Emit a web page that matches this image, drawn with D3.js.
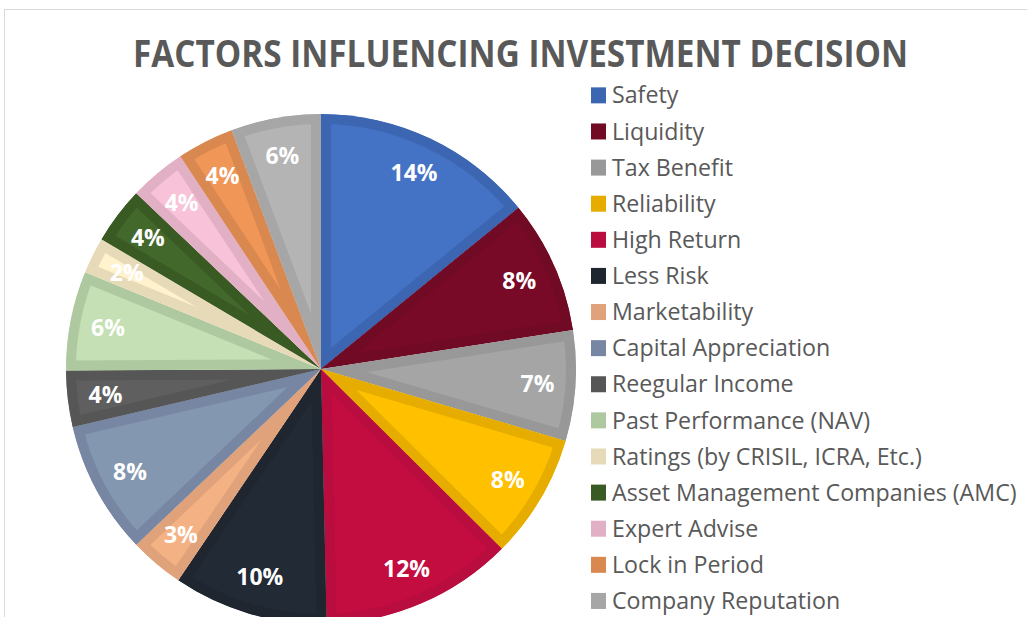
<!DOCTYPE html>
<html>
<head>
<meta charset="utf-8">
<script src="https://cdn.jsdelivr.net/npm/d3@7"></script>
<style>
  html, body { margin: 0; padding: 0; background: #fff; }
  svg { display: block; }
</style>
</head>
<body>
<svg id="chart" width="1027" height="617"></svg>
<script>
const categories = ["Safety", "Liquidity", "Tax Benefit", "Reliability", "High Return", "Less Risk",
  "Marketability", "Capital Appreciation", "Reegular Income", "Past Performance (NAV)",
  "Ratings (by CRISIL, ICRA, Etc.)", "Asset Management Companies (AMC)", "Expert Advise",
  "Lock in Period", "Company Reputation"];
const values = [14.1, 8.45, 7.0, 7.9, 12.2, 9.8, 3.45, 8.45, 3.55, 6.3, 2.3, 3.6, 3.6, 3.6, 5.7];
const fillColors = ["#4472C4", "#780A28", "#A5A5A5", "#FFC000", "#C30C40", "#222A36",
  "#F4B183", "#8497B0", "#5F5F5F", "#C5E0B4", "#FFF2CC", "#43682B", "#F8C2D8", "#F09657", "#B4B4B4"];
const borderColors = ["#3C66B2", "#700A25", "#989898", "#E6AD00", "#B80D3E", "#1F2630",
  "#DFA27A", "#7686A3", "#565656", "#AEC9A0", "#E6DAB9", "#3A5A24", "#E2B0C4", "#D98850", "#A6A6A6"];
const title = "FACTORS INFLUENCING INVESTMENT DECISION";

const svg = d3.select("#chart");
const total = d3.sum(values);

// chart frame
svg.append("rect").attr("x", 4.5).attr("y", 9.5).attr("width", 1200).attr("height", 800)
  .attr("fill", "#fff").attr("stroke", "#d9d9d9").attr("stroke-width", 1);

// title
svg.append("text").attr("x", 520.5).attr("y", 67).attr("text-anchor", "middle")
  .attr("font-family", "'Open Sans', sans-serif").attr("font-weight", "bold")
  .attr("font-size", 38).attr("fill", "#595959")
  .attr("textLength", 775).attr("lengthAdjust", "spacingAndGlyphs")
  .text(title);

// pie
const cx = 321, cy = 369, R = 255, labelR = 217, borderW = 10;
const pie = d3.pie().value(d => d).sort(null);
const arcs = pie(values);
const arc = d3.arc().innerRadius(0).outerRadius(R);
const labelArc = d3.arc().innerRadius(labelR).outerRadius(labelR);

const g = svg.append("g").attr("transform", `translate(${cx},${cy})`);
const defs = svg.append("defs");
defs.selectAll("clipPath").data(arcs).join("clipPath")
  .attr("id", (d, i) => "clip" + i)
  .append("path").attr("d", arc);

g.selectAll("path.slice").data(arcs).join("path")
  .attr("class", "slice")
  .attr("d", arc)
  .attr("fill", (d, i) => fillColors[i])
  .attr("stroke", (d, i) => borderColors[i])
  .attr("stroke-width", borderW * 2)
  .attr("stroke-linejoin", "miter")
  .attr("clip-path", (d, i) => `url(#clip${i})`);

g.selectAll("text.lbl").data(arcs).join("text")
  .attr("class", "lbl")
  .attr("transform", d => `translate(${labelArc.centroid(d)})`)
  .attr("text-anchor", "middle").attr("dy", "0.36em")
  .attr("font-family", "'Open Sans', sans-serif").attr("font-weight", "bold")
  .attr("font-size", 23).attr("fill", "#fff")
  .text(d => Math.round(d.value / total * 100) + "%");

// legend
const legY = d3.scaleBand().domain(categories).range([77.3, 619]).padding(0);
const leg = svg.append("g");
const rows = leg.selectAll("g").data(categories).join("g")
  .attr("transform", d => `translate(591,${legY(d) + legY.bandwidth() / 2})`);
rows.append("rect").attr("x", 0).attr("y", -8).attr("width", 15).attr("height", 16)
  .attr("fill", (d, i) => borderColors[i]);
rows.append("text").attr("x", 21).attr("y", 0).attr("dy", "0.35em")
  .attr("font-family", "'Open Sans', sans-serif").attr("font-size", 23.2).attr("fill", "#595959")
  .text(d => d);
</script>
</body>
</html>
